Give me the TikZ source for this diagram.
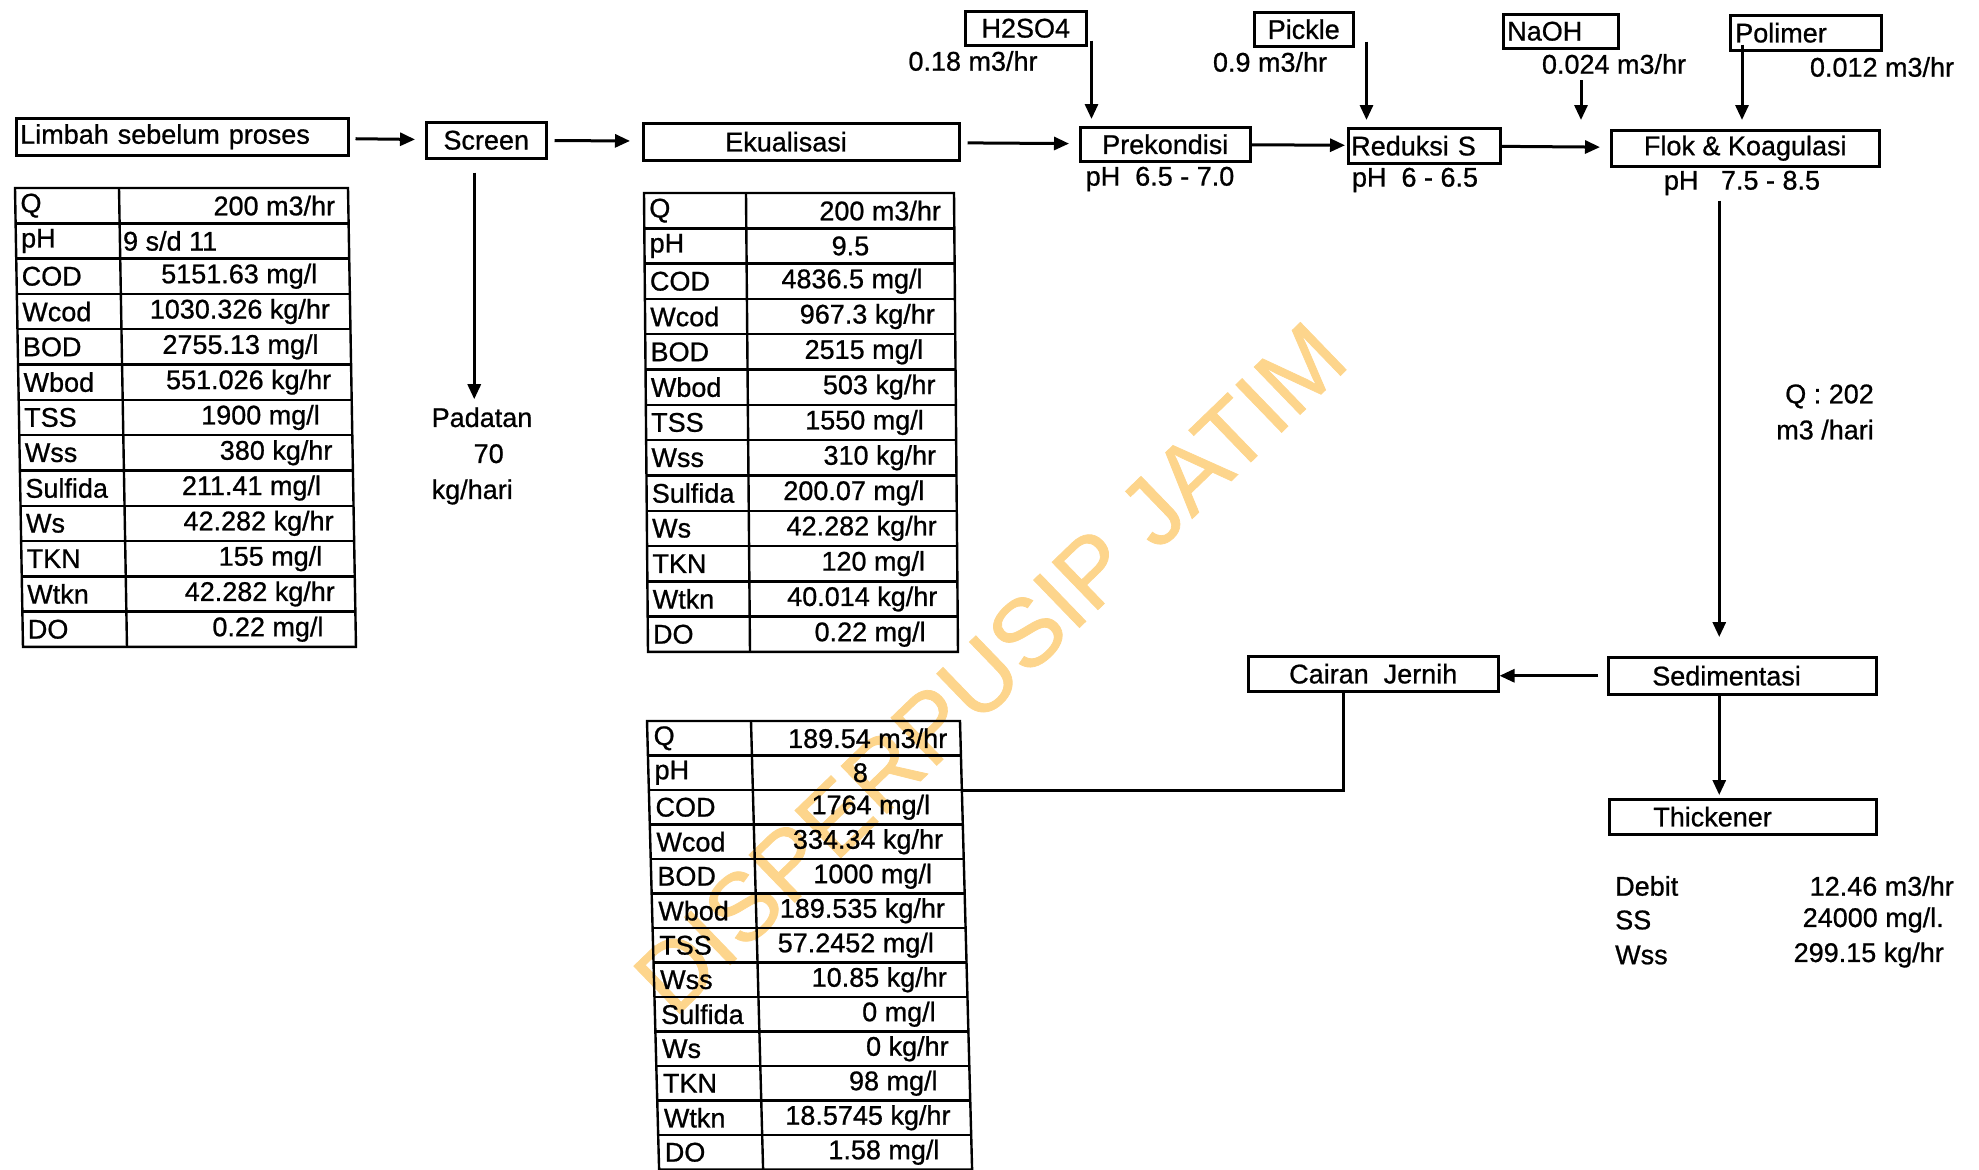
\documentclass[tikz,border=0pt]{standalone}
\usepackage{fontspec}
\setmainfont{Liberation Sans}[FakeBold=0.8]
\usetikzlibrary{arrows.meta}
\definecolor{wmark}{RGB}{253,213,140}
\newcommand{\diagfont}{\fontsize{27}{32}\selectfont}
\newcommand{\stackfont}{\fontsize{27}{36}\selectfont}

\begin{document}
\begin{tikzpicture}[x=1pt, y=-1pt,
  box/.style={draw, line width=2.5pt, inner sep=0pt, anchor=north west, font=\diagfont},
  boxl/.style={box, align=left, inner xsep=#1},
  flow/.style={-{Triangle[length=15pt,width=13pt]}, line width=3pt},
  pipe/.style={line width=3pt},
  lbl/.style={font=\diagfont, inner sep=0pt},
  cell/.style={font=\diagfont, inner sep=0pt, anchor=west},
  val/.style={font=\diagfont, inner sep=0pt, anchor=east},
  tline/.style={line width=2.4pt}
]
  \useasboundingbox (0,0) rectangle (1979,1170);

  % Watermark (behind everything)
  \node[font=\fontsize{96}{96}\selectfont, text=wmark, rotate=44] (wmark) at (990,668) {DISPERPUSIP JATIM};

  % Process boxes
  \node[boxl=4pt, text width=324pt, minimum height=37pt] (limbah) at (15,117) {Limbah sebelum proses};
  \node[box, minimum width=120pt, minimum height=36pt] (screen) at (425,121) {Screen};
  \node[boxl=82pt, text width=152pt, minimum height=37pt] (ekual) at (642,122) {Ekualisasi};
  \node[box, minimum width=170pt, minimum height=34pt] (prekon) at (1079,126) {Prekondisi};
  \node[boxl=3pt, text width=146pt, minimum height=35pt] (reduksi) at (1347,127) {Reduksi S};
  \node[box, minimum width=268pt, minimum height=36pt] (flok) at (1610,129) {Flok \& Koagulasi};
  \node[boxl=44pt, text width=180pt, minimum height=37pt] (sedim) at (1607,656) {Sedimentasi};
  \node[box, minimum width=250pt, minimum height=35pt] (cairan) at (1247,655) {Cairan\ \ Jernih};
  \node[boxl=44pt, text width=179pt, minimum height=35pt] (thick) at (1608,798) {Thickener};

  % Chemical dosing
  \node[box, minimum width=121pt, minimum height=34pt] (h2so4) at (964,10) {H2SO4};
  \node[box, minimum width=99pt, minimum height=34pt] (pickle) at (1253,11) {Pickle};
  \node[boxl=4pt, text width=107pt, minimum height=34pt] (naoh) at (1502,13) {NaOH};
  \node[boxl=5pt, text width=141pt, minimum height=35pt] (polimer) at (1729,14) {Polimer};
  \node[lbl] (h2q) at (973,61) {0.18 m3/hr};
  \node[lbl] (pickq) at (1270,62) {0.9 m3/hr};
  \node[lbl] (naohq) at (1614,64) {0.024 m3/hr};
  \node[lbl] (polq) at (1882,67) {0.012 m3/hr};

  % pH ranges
  \node[lbl] (prekph) at (1160,179) {pH\ \ 6.5 - 7.0};
  \node[lbl] (redph) at (1415,180) {pH\ \ 6 - 6.5};
  \node[lbl] (flokph) at (1742,183) {pH\ \ \ 7.5 - 8.5};

  % Side notes
  \node[lbl, align=left, font=\stackfont] (padatan) at (482,456) {Padatan\\\hspace*{42pt}70\\kg/hari};
  \node[lbl, align=right, anchor=east, font=\stackfont] (qsed) at (1874,412) {Q : 202\\m3 /hari};
  \node[lbl, anchor=west] (debitl) at (1615,886) {Debit};
  \node[lbl, anchor=east] (debitv) at (1954,886) {12.46 m3/hr};
  \node[lbl, anchor=west] (ssl) at (1615,920) {SS};
  \node[lbl, anchor=east] (ssv) at (1944,920) {24000 mg/l.};
  \node[lbl, anchor=west] (wssl) at (1615,955) {Wss};
  \node[lbl, anchor=east] (wssv) at (1944,955) {299.15 kg/hr};

  % Table: limbah sebelum proses
  \begin{scope}[shift={(15,188)}, y=-35.3pt, xslant=-0.0174]
    \draw[tline] (0,0) rectangle (333,13);
    \draw[tline] (104,0) -- (104,13);
    \draw[tline] (0,1) -- (333,1) (0,2) -- (333,2) (0,3) -- (333,3) (0,4) -- (333,4)
      (0,5) -- (333,5) (0,6) -- (333,6) (0,7) -- (333,7) (0,8) -- (333,8)
      (0,9) -- (333,9) (0,10) -- (333,10) (0,11) -- (333,11) (0,12) -- (333,12);
    \node[cell] (inQ) at (5,0.5) {Q};        \node[val] (inQv) at (320,0.5) {200 m3/hr};
    \node[cell] (inpH) at (5,1.5) {pH};      \node[cell] (inpHv) at (107,1.5) {9 s/d 11};
    \node[cell] (inCOD) at (5,2.5) {COD};    \node[val] (inCODv) at (301,2.5) {5151.63 mg/l};
    \node[cell] (inWcod) at (5,3.5) {Wcod};  \node[val] (inWcodv) at (313,3.5) {1030.326 kg/hr};
    \node[cell] (inBOD) at (5,4.5) {BOD};    \node[val] (inBODv) at (301,4.5) {2755.13 mg/l};
    \node[cell] (inWbod) at (5,5.5) {Wbod};  \node[val] (inWbodv) at (313,5.5) {551.026 kg/hr};
    \node[cell] (inTSS) at (5,6.5) {TSS};    \node[val] (inTSSv) at (301,6.5) {1900 mg/l};
    \node[cell] (inWss) at (5,7.5) {Wss};    \node[val] (inWssv) at (313,7.5) {380 kg/hr};
    \node[cell] (inSul) at (5,8.5) {Sulfida};\node[val] (inSulv) at (301,8.5) {211.41 mg/l};
    \node[cell] (inWs) at (5,9.5) {Ws};      \node[val] (inWsv) at (313,9.5) {42.282 kg/hr};
    \node[cell] (inTKN) at (5,10.5) {TKN};   \node[val] (inTKNv) at (301,10.5) {155 mg/l};
    \node[cell] (inWtkn) at (5,11.5) {Wtkn}; \node[val] (inWtknv) at (313,11.5) {42.282 kg/hr};
    \node[cell] (inDO) at (5,12.5) {DO};     \node[val] (inDOv) at (301,12.5) {0.22 mg/l};
  \end{scope}

  % Table: ekualisasi
  \begin{scope}[shift={(644,193)}, y=-35.3pt, xslant=-0.0087]
    \draw[tline] (0,0) rectangle (310,13);
    \draw[tline] (102,0) -- (102,13);
    \draw[tline] (0,1) -- (310,1) (0,2) -- (310,2) (0,3) -- (310,3) (0,4) -- (310,4)
      (0,5) -- (310,5) (0,6) -- (310,6) (0,7) -- (310,7) (0,8) -- (310,8)
      (0,9) -- (310,9) (0,10) -- (310,10) (0,11) -- (310,11) (0,12) -- (310,12);
    \node[cell] (eqQ) at (5,0.5) {Q};        \node[val] (eqQv) at (297,0.5) {200 m3/hr};
    \node[cell] (eqpH) at (5,1.5) {pH};      \node[lbl] (eqpHv) at (206,1.5) {9.5};
    \node[cell] (eqCOD) at (5,2.5) {COD};    \node[val] (eqCODv) at (278,2.5) {4836.5 mg/l};
    \node[cell] (eqWcod) at (5,3.5) {Wcod};  \node[val] (eqWcodv) at (290,3.5) {967.3 kg/hr};
    \node[cell] (eqBOD) at (5,4.5) {BOD};    \node[val] (eqBODv) at (278,4.5) {2515 mg/l};
    \node[cell] (eqWbod) at (5,5.5) {Wbod};  \node[val] (eqWbodv) at (290,5.5) {503 kg/hr};
    \node[cell] (eqTSS) at (5,6.5) {TSS};    \node[val] (eqTSSv) at (278,6.5) {1550 mg/l};
    \node[cell] (eqWss) at (5,7.5) {Wss};    \node[val] (eqWssv) at (290,7.5) {310 kg/hr};
    \node[cell] (eqSul) at (5,8.5) {Sulfida};\node[val] (eqSulv) at (278,8.5) {200.07 mg/l};
    \node[cell] (eqWs) at (5,9.5) {Ws};      \node[val] (eqWsv) at (290,9.5) {42.282 kg/hr};
    \node[cell] (eqTKN) at (5,10.5) {TKN};   \node[val] (eqTKNv) at (278,10.5) {120 mg/l};
    \node[cell] (eqWtkn) at (5,11.5) {Wtkn}; \node[val] (eqWtknv) at (290,11.5) {40.014 kg/hr};
    \node[cell] (eqDO) at (5,12.5) {DO};     \node[val] (eqDOv) at (278,12.5) {0.22 mg/l};
  \end{scope}

  % Table: cairan jernih (outlet)
  \begin{scope}[shift={(647,721)}, y=-34.5pt, xslant=-0.027]
    \draw[tline] (0,0) rectangle (313,13);
    \draw[tline] (104,0) -- (104,13);
    \draw[tline] (0,1) -- (313,1) (0,2) -- (313,2) (0,3) -- (313,3) (0,4) -- (313,4)
      (0,5) -- (313,5) (0,6) -- (313,6) (0,7) -- (313,7) (0,8) -- (313,8)
      (0,9) -- (313,9) (0,10) -- (313,10) (0,11) -- (313,11) (0,12) -- (313,12);
    \coordinate (outR) at (313,2);
    \node[cell] (outQ) at (6,0.5) {Q};        \node[val] (outQv) at (300,0.5) {189.54 m3/hr};
    \node[cell] (outpH) at (6,1.5) {pH};      \node[lbl] (outpHv) at (212,1.5) {8};
    \node[cell] (outCOD) at (6,2.5) {COD};    \node[val] (outCODv) at (281,2.5) {1764 mg/l};
    \node[cell] (outWcod) at (6,3.5) {Wcod};  \node[val] (outWcodv) at (293,3.5) {334.34 kg/hr};
    \node[cell] (outBOD) at (6,4.5) {BOD};    \node[val] (outBODv) at (281,4.5) {1000 mg/l};
    \node[cell] (outWbod) at (6,5.5) {Wbod};  \node[val] (outWbodv) at (293,5.5) {189.535 kg/hr};
    \node[cell] (outTSS) at (6,6.5) {TSS};    \node[val] (outTSSv) at (281,6.5) {57.2452 mg/l};
    \node[cell] (outWss) at (6,7.5) {Wss};    \node[val] (outWssv) at (293,7.5) {10.85 kg/hr};
    \node[cell] (outSul) at (6,8.5) {Sulfida};\node[val] (outSulv) at (281,8.5) {0 mg/l};
    \node[cell] (outWs) at (6,9.5) {Ws};      \node[val] (outWsv) at (293,9.5) {0 kg/hr};
    \node[cell] (outTKN) at (6,10.5) {TKN};   \node[val] (outTKNv) at (281,10.5) {98 mg/l};
    \node[cell] (outWtkn) at (6,11.5) {Wtkn}; \node[val] (outWtknv) at (293,11.5) {18.5745 kg/hr};
    \node[cell] (outDO) at (6,12.5) {DO};     \node[val] (outDOv) at (281,12.5) {1.58 mg/l};
  \end{scope}

  % Main flow
  \draw[flow, shorten <=6pt, shorten >=10pt] (limbah) -- (screen);
  \draw[flow, shorten <=7pt, shorten >=12pt] (screen) -- (ekual);
  \draw[flow, shorten <=7pt, shorten >=10pt] (ekual) -- (prekon);
  \draw[flow, shorten >=2pt] (prekon) -- (reduksi);
  \draw[flow, shorten >=10pt] (reduksi) -- (flok);
  \draw[flow, shorten <=13pt, shorten >=8pt] ([xshift=-12pt]screen.south) coordinate (scrdn) -- (scrdn |- padatan.north);

  % Dosing arrows
  \draw[flow, shorten >=7pt] ([xshift=4pt,yshift=6pt]h2so4.south east) coordinate (h2dn) -- (h2dn |- prekon.north);
  \draw[flow, shorten >=7pt] ([xshift=12pt,yshift=6pt]pickle.south east) coordinate (pkdn) -- (pkdn |- reduksi.north);
  \draw[flow, shorten >=9pt] ([xshift=-33pt,yshift=-6pt]naohq.south) coordinate (nadn) -- (nadn |- flok.north);
  \draw[flow, shorten >=9pt] ([xshift=13pt,yshift=7pt]polimer.south west) coordinate (podn) -- (podn |- flok.north);

  % Settling
  \draw[flow, shorten <=33pt, shorten >=19pt] ([xshift=-26pt]flok.south) coordinate (fkdn) -- (fkdn |- sedim.north);
  \draw[flow, shorten <=9pt] (sedim.west) -- (sedim.west -| cairan.east);
  \draw[flow, shorten >=3pt] ([xshift=-23pt]sedim.south) coordinate (sddn) -- (sddn |- thick.north);
  \draw[pipe] ([xshift=-30pt]cairan.south) |- (outR);

\end{tikzpicture}
\end{document}
